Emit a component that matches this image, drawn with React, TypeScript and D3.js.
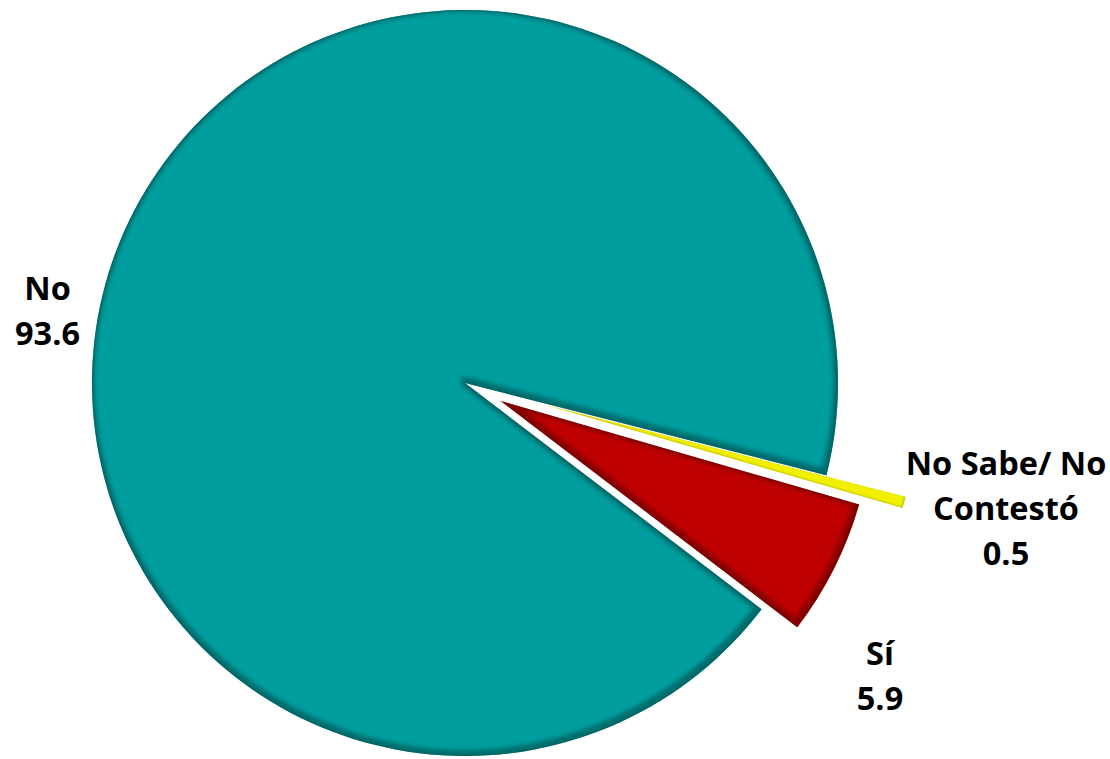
import React from "react";
import * as d3 from "d3";

const categories = ["Sí", "No", "No Sabe/ No Contestó"];
const values = [5.9, 93.6, 0.5];
const labelLines = [["Sí", "5.9"], ["No", "93.6"], ["No Sabe/ No", "Contestó", "0.5"]];

const W = 1110;
const H = 759;
const CX = 465;
const CY = 383;
const R = 373;
const START_DEG = 106.1;
const explode = [40, 0, 82];
const fills = ["#C00000", "#009E9F", "#F0F000"];
const filters = ["url(#bevel)", "url(#bevel)", "url(#bevelThin)"];
const labelPos: [number, number][] = [
  [880, 665],
  [47.5, 300],
  [1006, 475],
];
const LINE_H = 45;

export default function App() {
  const pie = d3
    .pie<number>()
    .sort(null)
    .value((d) => d)
    .startAngle((START_DEG * Math.PI) / 180)
    .endAngle((START_DEG * Math.PI) / 180 + 2 * Math.PI);
  const arcs = pie(values);
  const arcGen = d3.arc<d3.PieArcDatum<number>>().innerRadius(0).outerRadius(R);

  return (
    <svg
      width={W}
      height={H}
      style={{ position: "absolute", left: 0, top: 0, background: "#fff" }}
    >
      <defs>
        <filter id="bevel" x="-10%" y="-10%" width="120%" height="120%">
          <feMorphology in="SourceAlpha" operator="erode" radius="3.5" result="er" />
          <feGaussianBlur in="er" stdDeviation="2" result="erb" />
          <feOffset in="erb" dx="-1.5" dy="-2" result="eo" />
          <feComposite in="SourceAlpha" in2="eo" operator="out" result="edge" />
          <feFlood floodColor="#000" floodOpacity="0.55" />
          <feComposite in2="edge" operator="in" result="shadow" />
          <feGaussianBlur in="SourceAlpha" stdDeviation="1.2" result="b2" />
          <feComposite in="SourceAlpha" in2="b2" operator="out" result="rim" />
          <feFlood floodColor="#000" floodOpacity="0.5" />
          <feComposite in2="rim" operator="in" result="rimS" />
          <feMerge>
            <feMergeNode in="SourceGraphic" />
            <feMergeNode in="shadow" />
            <feMergeNode in="rimS" />
          </feMerge>
        </filter>
        <filter id="bevelThin" x="-10%" y="-10%" width="120%" height="120%">
          <feGaussianBlur in="SourceAlpha" stdDeviation="0.8" result="b2" />
          <feOffset in="b2" dx="-0.6" dy="-0.8" result="ob2" />
          <feComposite in="SourceAlpha" in2="ob2" operator="out" result="rim" />
          <feFlood floodColor="#000" floodOpacity="0.45" />
          <feComposite in2="rim" operator="in" result="rimS" />
          <feMerge>
            <feMergeNode in="SourceGraphic" />
            <feMergeNode in="rimS" />
          </feMerge>
        </filter>
      </defs>
      {arcs.map((a, i) => {
        const mid = (a.startAngle + a.endAngle) / 2;
        const dx = Math.sin(mid) * explode[i];
        const dy = -Math.cos(mid) * explode[i];
        return (
          <g key={categories[i]} transform={`translate(${CX + dx},${CY + dy})`}>
            <path d={arcGen(a) || ""} fill={fills[i]} filter={filters[i]} />
          </g>
        );
      })}
      {labelLines.map((lines, i) => (
        <text
          key={categories[i]}
          x={labelPos[i][0]}
          y={labelPos[i][1]}
          textAnchor="middle"
          fontFamily="'Open Sans', sans-serif"
          fontWeight="bold"
          fontSize={32.5}
          fill="#000"
        >
          {lines.map((l, j) => (
            <tspan key={j} x={labelPos[i][0]} y={labelPos[i][1] + j * LINE_H}>
              {l}
            </tspan>
          ))}
        </text>
      ))}
    </svg>
  );
}
